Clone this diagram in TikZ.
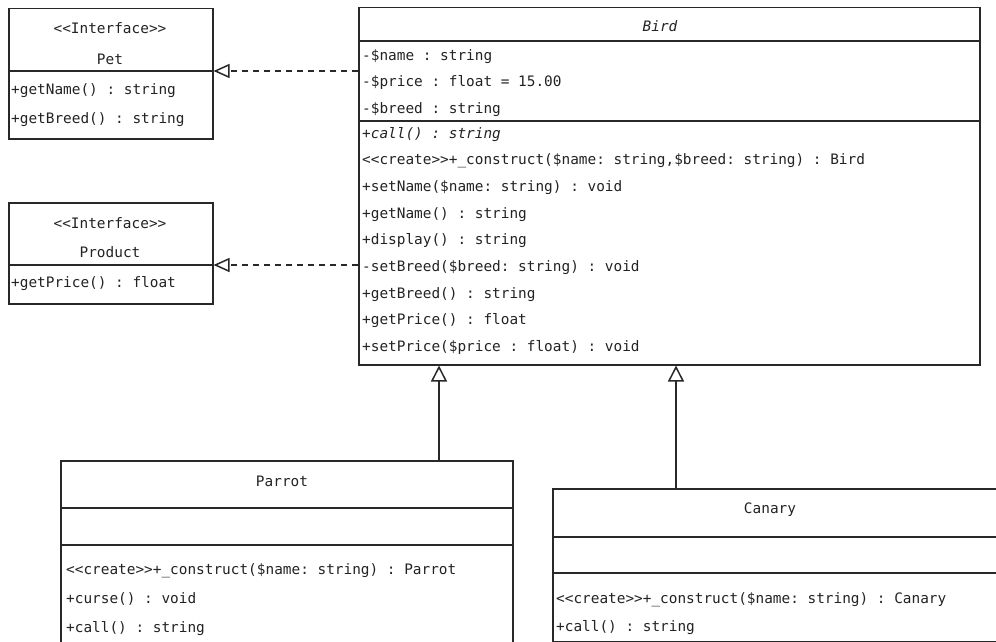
\documentclass[tikz,border=0pt]{standalone}
\usepackage{fontspec}
\setmonofont{DejaVu Sans Mono}
\usetikzlibrary{arrows.meta}
\definecolor{fg}{RGB}{40,40,40}
\definecolor{tx}{RGB}{35,35,35}
\tikzset{
  umlbox/.style={draw=fg, line width=1.5pt, inner sep=0pt, anchor=north west},
  divl/.style={draw=fg, line width=1.5pt},
  txt/.style={anchor=base west, inner sep=0pt, text=tx, font=\ttfamily\fontsize{14.4}{17}\selectfont},
  ctxt/.style={anchor=base, inner sep=0pt, text=tx, font=\ttfamily\fontsize{14.4}{17}\selectfont},
  gen/.style={draw=fg, line width=1.5pt, -{Triangle[open, length=16pt, width=16pt, line width=1.5pt]}},
  real/.style={draw=fg, line width=1.5pt, dash pattern=on 6pt off 5pt, -{Triangle[open, length=16pt, width=14pt, line width=1.5pt]}},
}
\begin{document}
\begin{tikzpicture}[x=1pt, y=-1pt]
\clip (0,0) rectangle (996,642);
\fill[white] (0,0) rectangle (996,642);

% Pet
\node[umlbox, minimum width=204pt, minimum height=130pt] (pet) at (8,8) {};
\draw[divl] (8,71) -- (212,71);
\node[ctxt] (pet1) at (110,34) {<<Interface>>};
\node[ctxt] (pet2) at (110,64) {Pet};
\node[txt] (pet3) at (11,95) {+getName() : string};
\node[txt] (pet4) at (11,123) {+getBreed() : string};

% Product
\node[umlbox, minimum width=204pt, minimum height=101pt] (prod) at (8,202) {};
\draw[divl] (8,265) -- (212,265);
\node[ctxt] (prod1) at (110,228) {<<Interface>>};
\node[ctxt] (prod2) at (110,257) {Product};
\node[txt] (prod3) at (11,287) {+getPrice() : float};

% Bird
\node[umlbox, minimum width=621pt, minimum height=357pt] (bird) at (358,7) {};
\draw[divl] (358,41) -- (979,41);
\draw[divl] (358,121) -- (979,121);
\node[ctxt, font=\ttfamily\itshape\fontsize{14.4}{17}\selectfont] (bt) at (660,32) {Bird};
\node[txt] (ba1) at (362,60) {-\$name : string};
\node[txt] (ba2) at (362,86.5) {-\$price : float = 15.00};
\node[txt] (ba3) at (362,113) {-\$breed : string};
\node[txt, font=\ttfamily\itshape\fontsize{14.4}{17}\selectfont] (bm1) at (362,138) {+call() : string};
\node[txt] (bm2) at (362,164.7) {<<create>>+\_construct(\$name: string,\$breed: string) : Bird};
\node[txt] (bm3) at (362,191.4) {+setName(\$name: string) : void};
\node[txt] (bm4) at (362,218.1) {+getName() : string};
\node[txt] (bm5) at (362,244.8) {+display() : string};
\node[txt] (bm6) at (362,271.5) {-setBreed(\$breed: string) : void};
\node[txt] (bm7) at (362,298.2) {+getBreed() : string};
\node[txt] (bm8) at (362,324.9) {+getPrice() : float};
\node[txt] (bm9) at (362,351.6) {+setPrice(\$price : float) : void};

% Parrot
\node[umlbox, minimum width=452pt, minimum height=220pt] (parrot) at (60,460) {};
\draw[divl] (60,508) -- (512,508);
\draw[divl] (60,545) -- (512,545);
\node[ctxt] (pt) at (282,486) {Parrot};
\node[txt] (pm1) at (66,574) {<<create>>+\_construct(\$name: string) : Parrot};
\node[txt] (pm2) at (66,603) {+curse() : void};
\node[txt] (pm3) at (66,632) {+call() : string};

% Canary
\node[umlbox, minimum width=460pt, minimum height=153pt] (canary) at (552,488) {};
\draw[divl] (552,537) -- (1012,537);
\draw[divl] (552,573) -- (1012,573);
\node[ctxt] (ct) at (770,513) {Canary};
\node[txt] (cm1) at (556,603) {<<create>>+\_construct(\$name: string) : Canary};
\node[txt] (cm2) at (556,631) {+call() : string};

% connectors
\coordinate (gp) at (439,0);
\coordinate (gc) at (676,0);
\coordinate (ypet) at (0,71);
\coordinate (yprod) at (0,265);
\draw[gen] (parrot.north -| gp) -- (bird.south -| gp);
\draw[gen] (canary.north -| gc) -- (bird.south -| gc);
\draw[real] (bird.west |- ypet) -- (pet.east |- ypet);
\draw[real] (bird.west |- yprod) -- (prod.east |- yprod);
\end{tikzpicture}
\end{document}
